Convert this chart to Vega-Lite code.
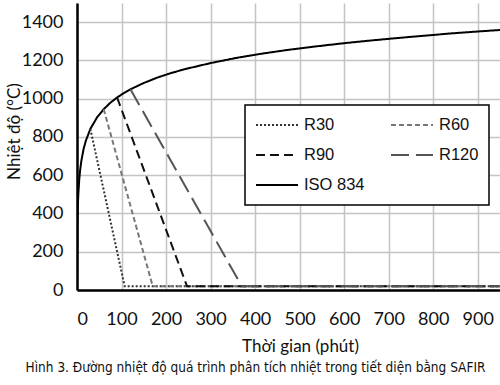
{
  "$schema": "https://vega.github.io/schema/vega-lite/v6.json",
  "autosize": "none",
  "width": 423,
  "height": 287,
  "padding": {"left": 77, "top": 3, "right": 0, "bottom": 95},
  "background": "white",
  "title": {
    "text": "Hình 3. Đường nhiệt độ quá trình phân tích nhiệt trong tiết diện bằng SAFIR",
    "orient": "bottom",
    "anchor": "middle",
    "frame": "group",
    "dx": -33,
    "offset": 7,
    "font": "DejaVu Sans Condensed, Liberation Sans Narrow, Roboto",
    "fontSize": 13.5,
    "fontWeight": "normal",
    "color": "#111"
  },
  "config": {
    "view": {"stroke": null},
    "font": "Lato"
  },
  "datasets": {
    "curves": [
      {"t": 0, "T": 20, "s": "ISO 834"},
      {"t": 1, "T": 349, "s": "ISO 834"},
      {"t": 2, "T": 445, "s": "ISO 834"},
      {"t": 3, "T": 502, "s": "ISO 834"},
      {"t": 5, "T": 576, "s": "ISO 834"},
      {"t": 7.5, "T": 636, "s": "ISO 834"},
      {"t": 10, "T": 678, "s": "ISO 834"},
      {"t": 15, "T": 739, "s": "ISO 834"},
      {"t": 20, "T": 781, "s": "ISO 834"},
      {"t": 30, "T": 842, "s": "ISO 834"},
      {"t": 45, "T": 902, "s": "ISO 834"},
      {"t": 60, "T": 945, "s": "ISO 834"},
      {"t": 75, "T": 979, "s": "ISO 834"},
      {"t": 90, "T": 1006, "s": "ISO 834"},
      {"t": 105, "T": 1029, "s": "ISO 834"},
      {"t": 120, "T": 1049, "s": "ISO 834"},
      {"t": 150, "T": 1082, "s": "ISO 834"},
      {"t": 180, "T": 1110, "s": "ISO 834"},
      {"t": 210, "T": 1133, "s": "ISO 834"},
      {"t": 240, "T": 1153, "s": "ISO 834"},
      {"t": 300, "T": 1186, "s": "ISO 834"},
      {"t": 360, "T": 1214, "s": "ISO 834"},
      {"t": 420, "T": 1237, "s": "ISO 834"},
      {"t": 480, "T": 1257, "s": "ISO 834"},
      {"t": 540, "T": 1274, "s": "ISO 834"},
      {"t": 600, "T": 1290, "s": "ISO 834"},
      {"t": 660, "T": 1304, "s": "ISO 834"},
      {"t": 720, "T": 1317, "s": "ISO 834"},
      {"t": 780, "T": 1329, "s": "ISO 834"},
      {"t": 840, "T": 1341, "s": "ISO 834"},
      {"t": 900, "T": 1351, "s": "ISO 834"},
      {"t": 950, "T": 1359, "s": "ISO 834"},
      {"t": 30, "T": 842, "s": "R30"},
      {"t": 107, "T": 20, "s": "R30"},
      {"t": 950, "T": 20, "s": "R30"},
      {"t": 60, "T": 945, "s": "R60"},
      {"t": 170, "T": 20, "s": "R60"},
      {"t": 950, "T": 20, "s": "R60"},
      {"t": 90, "T": 1006, "s": "R90"},
      {"t": 247, "T": 20, "s": "R90"},
      {"t": 950, "T": 20, "s": "R90"},
      {"t": 120, "T": 1049, "s": "R120"},
      {"t": 370, "T": 20, "s": "R120"},
      {"t": 950, "T": 20, "s": "R120"}
    ]
  },
  "data": {"name": "curves"},
  "mark": {"type": "line", "clip": true},
  "encoding": {
    "x": {
      "field": "t", "type": "quantitative",
      "scale": {"domain": [0, 950], "nice": false},
      "axis": {
        "title": "Thời gian (phút)",
        "values": [0, 100, 200, 300, 400, 500, 600, 700, 800, 900],
        "format": "d",
        "grid": true, "gridColor": "#c4c4c4", "gridWidth": 1.5,
        "ticks": false,
        "domainColor": "#000", "domainWidth": 2.5,
        "labelFont": "Lato", "labelFontSize": 18, "labelColor": "#111",
        "labelPadding": 20,
        "titleFont": "Lato", "titleFontSize": 17, "titleFontWeight": "normal", "titleColor": "#111",
        "titleX": 223, "titleY": 56, "titleBaseline": "middle", "titleAlign": "center"
      }
    },
    "y": {
      "field": "T", "type": "quantitative",
      "scale": {"domain": [0, 1500], "nice": false},
      "axis": {
        "title": "Nhiệt độ (°C)",
        "values": [0, 200, 400, 600, 800, 1000, 1200, 1400],
        "format": "d",
        "grid": true, "gridColor": "#c4c4c4", "gridWidth": 1.5,
        "ticks": false,
        "domainColor": "#000", "domainWidth": 2.5,
        "labelFont": "Lato", "labelFontSize": 18, "labelColor": "#111",
        "labelPadding": 14,
        "titleFont": "Lato", "titleFontSize": 17, "titleFontWeight": "normal", "titleColor": "#111",
        "titleX": -63, "titleY": 128, "titleAngle": 270, "titleBaseline": "middle", "titleAlign": "center"
      }
    },
    "color": {
      "field": "s", "type": "nominal",
      "scale": {
        "domain": ["R30", "R60", "R90", "R120", "ISO 834"],
        "range": ["#333333", "#777777", "#111111", "#555555", "#000000"]
      },
      "legend": {
        "title": null,
        "orient": "none",
        "legendX": 168,
        "legendY": 102,
        "columns": 2,
        "direction": "horizontal",
        "symbolType": "stroke",
        "symbolSize": 1764,
        "clipHeight": 20,
        "labelFont": "Liberation Sans",
        "labelFontSize": 16.5,
        "labelColor": "#111",
        "labelOffset": 5,
        "columnPadding": 25,
        "rowPadding": 10,
        "padding": 10,
        "fillColor": "white",
        "strokeColor": "#000",
        "encode": {"legend": {"update": {"strokeWidth": {"value": 1.5}}}}
      }
    },
    "strokeDash": {
      "field": "s", "type": "nominal",
      "scale": {
        "domain": ["R30", "R60", "R90", "R120", "ISO 834"],
        "range": [[2, 2], [5, 3], [9, 5], [18, 7], [1, 0]]
      }
    },
    "strokeWidth": {
      "field": "s", "type": "nominal",
      "scale": {
        "domain": ["R30", "R60", "R90", "R120", "ISO 834"],
        "range": [2, 2, 2.2, 1.8, 2.8]
      }
    }
  }
}
